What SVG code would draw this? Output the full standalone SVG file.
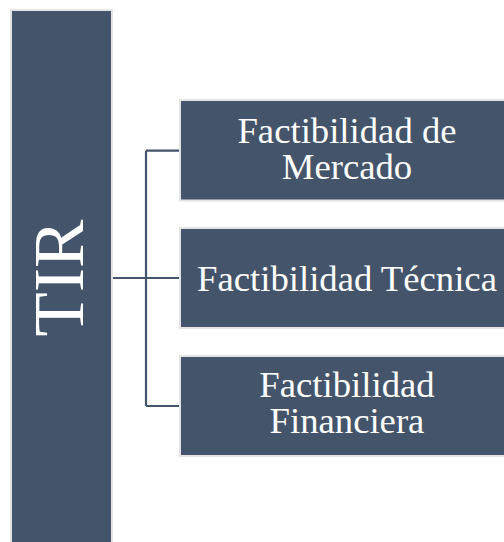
<svg xmlns="http://www.w3.org/2000/svg" width="504" height="542" viewBox="0 0 504 542">
<style>
.box{fill:#44546A;stroke:#E4E4E4;stroke-width:2}
.lbl{font-family:"Liberation Serif","Times New Roman",serif;fill:#FFFFFF;text-anchor:middle;font-size:36.7px}
.con{fill:none;stroke:#44546A;stroke-width:2.2}
</style>
<rect width="504" height="542" fill="#FFFFFF"/>
<g id="connectors">
<path class="con" d="M112 278 H180 M146 150.7 V406 M146 150.7 H180 M146 406 H180"/>
</g>
<g id="tir">
<rect class="box" x="11" y="10" width="101" height="540"/>
<text class="lbl" style="font-size:72.5px" transform="translate(83 278) rotate(-90)" x="0" y="0">TIR</text>
</g>
<g id="mercado">
<rect class="box" x="180" y="100" width="340" height="100.5"/>
<text class="lbl"><tspan x="347" y="142.7">Factibilidad de</tspan><tspan x="347" y="179.3">Mercado</tspan></text>
</g>
<g id="tecnica">
<rect class="box" x="180" y="228" width="340" height="100"/>
<text class="lbl" x="347" y="290.7">Factibilidad Técnica</text>
</g>
<g id="financiera">
<rect class="box" x="180" y="356" width="340" height="100"/>
<text class="lbl"><tspan x="347" y="396.7">Factibilidad</tspan><tspan x="347" y="433.3">Financiera</tspan></text>
</g>
</svg>
